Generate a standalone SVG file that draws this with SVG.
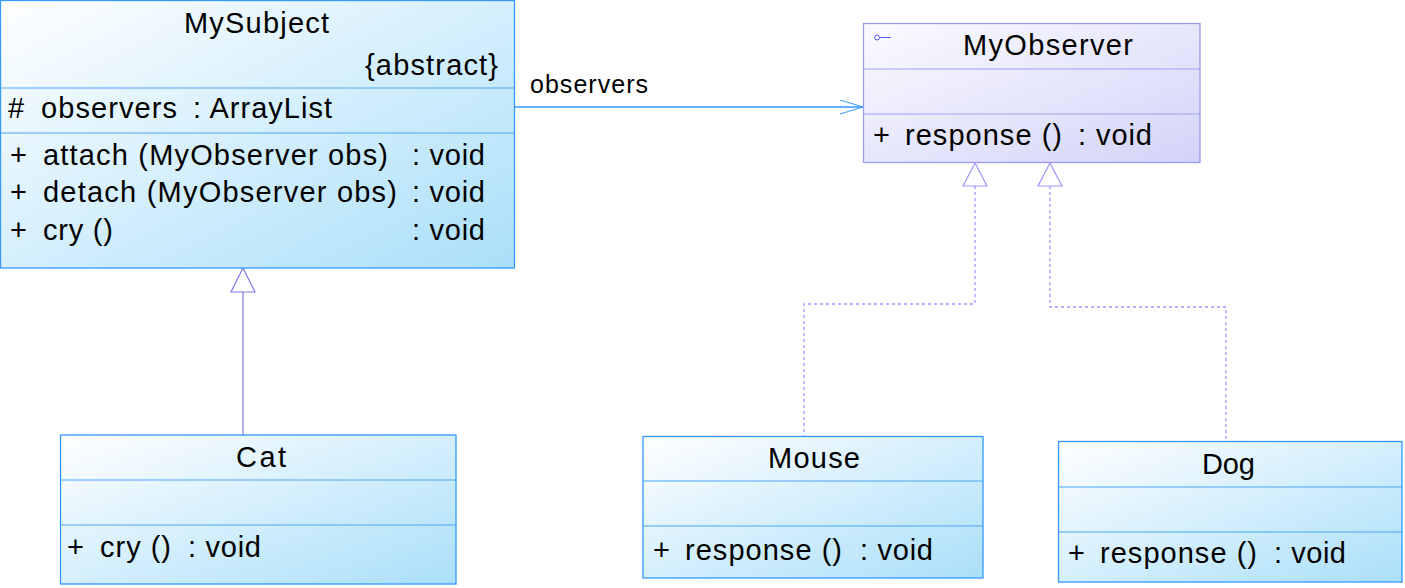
<svg xmlns="http://www.w3.org/2000/svg" width="1405" height="588" viewBox="0 0 1405 588">
<defs>
<linearGradient id="gBlue" x1="0" y1="0" x2="1" y2="1">
<stop offset="0" stop-color="#ffffff"/>
<stop offset="1" stop-color="#aadff9"/>
</linearGradient>
<linearGradient id="gLav" x1="0" y1="0" x2="1" y2="1">
<stop offset="0" stop-color="#fbfbff"/>
<stop offset="1" stop-color="#d3d3f8"/>
</linearGradient>
<marker id="openArrow" markerWidth="26" markerHeight="16" refX="23" refY="7" orient="auto" markerUnits="userSpaceOnUse">
<path d="M0,0 L23,7 L0,14" fill="none" stroke="#3399ff" stroke-width="1"/>
</marker>
</defs>
<style>
.txt{font-family:"Liberation Sans",Arial,sans-serif;font-size:29px;fill:#000}
.lbl{font-family:"Liberation Sans",Arial,sans-serif;font-size:25px;fill:#000}
.cls{fill:url(#gBlue);stroke:#3399ff;stroke-width:1.3}
.div{stroke:#4aa6f2;stroke-width:1}
.ifc{fill:url(#gLav);stroke:#9a9af5;stroke-width:1.3}
.idiv{stroke:#a0a0f5;stroke-width:1}
.real{fill:none;stroke:#9999ff;stroke-width:1.3;stroke-dasharray:3,3}
.tri{fill:#ffffff;stroke:#9999ff;stroke-width:1.2}
.gen{fill:none;stroke:#7b7bee;stroke-width:1.2}
.gtri{fill:#ffffff;stroke:#7b7bee;stroke-width:1.2}
</style>
<rect width="1405" height="588" fill="#ffffff"/>

<g id="connectors">
<line x1="515" y1="107" x2="863" y2="107" stroke="#3399ff" stroke-width="1.3" marker-end="url(#openArrow)"/>
<text class="lbl" x="530" y="93" textLength="118" lengthAdjust="spacing">observers</text>
<line class="gen" x1="243" y1="292" x2="243" y2="435"/>
<polygon class="gtri" points="243,268 231,292 255,292"/>
<polyline class="real" points="975,186 975,304 804,304 804,436"/>
<polygon class="tri" points="975,163 963,186 987,186"/>
<polyline class="real" points="1050,186 1050,307 1226,307 1226,441"/>
<polygon class="tri" points="1050,163 1038,186 1062,186"/>
</g>

<g id="MySubject">
<rect class="cls" x="0.5" y="0.5" width="514" height="267.5"/>
<line class="div" x1="0.5" y1="88" x2="514.5" y2="88"/>
<line class="div" x1="0.5" y1="133" x2="514.5" y2="133"/>
<text class="txt" x="184" y="32.5" textLength="145" lengthAdjust="spacing">MySubject</text>
<text class="txt" x="365" y="75" textLength="133" lengthAdjust="spacing">{abstract}</text>
<text class="txt" x="8" y="117.5">#</text>
<text class="txt" x="41" y="117.5" textLength="136" lengthAdjust="spacing">observers</text>
<text class="txt" x="193" y="117.5" textLength="139" lengthAdjust="spacing">: ArrayList</text>
<text class="txt" x="10" y="165">+</text>
<text class="txt" x="43" y="165" textLength="345" lengthAdjust="spacing">attach (MyObserver obs)</text>
<text class="txt" x="412" y="165" textLength="73" lengthAdjust="spacing">: void</text>
<text class="txt" x="10" y="202">+</text>
<text class="txt" x="43" y="202" textLength="354" lengthAdjust="spacing">detach (MyObserver obs)</text>
<text class="txt" x="412" y="202" textLength="73" lengthAdjust="spacing">: void</text>
<text class="txt" x="10" y="240">+</text>
<text class="txt" x="43" y="240" textLength="70" lengthAdjust="spacing">cry ()</text>
<text class="txt" x="412" y="240" textLength="73" lengthAdjust="spacing">: void</text>
</g>

<g id="MyObserver">
<rect class="ifc" x="863.5" y="23.5" width="336.5" height="139"/>
<line class="idiv" x1="863.5" y1="69" x2="1200" y2="69"/>
<line class="idiv" x1="863.5" y1="114" x2="1200" y2="114"/>
<circle cx="877" cy="37.5" r="2.5" fill="none" stroke="#5a5af0" stroke-width="1"/>
<line x1="879.5" y1="37.5" x2="891" y2="37.5" stroke="#5a5af0" stroke-width="1"/>
<text class="txt" x="963" y="55" textLength="170" lengthAdjust="spacing">MyObserver</text>
<text class="txt" x="873" y="145">+</text>
<text class="txt" x="905" y="145" textLength="157" lengthAdjust="spacing">response ()</text>
<text class="txt" x="1078" y="145" textLength="74" lengthAdjust="spacing">: void</text>
</g>

<g id="Cat">
<rect class="cls" x="60.5" y="435" width="395.5" height="149"/>
<line class="div" x1="60.5" y1="480" x2="456" y2="480"/>
<line class="div" x1="60.5" y1="525" x2="456" y2="525"/>
<text class="txt" x="236" y="467" textLength="50" lengthAdjust="spacing">Cat</text>
<text class="txt" x="67" y="557">+</text>
<text class="txt" x="100" y="557" textLength="71" lengthAdjust="spacing">cry ()</text>
<text class="txt" x="188" y="557" textLength="73" lengthAdjust="spacing">: void</text>
</g>

<g id="Mouse">
<rect class="cls" x="643" y="436.5" width="340" height="141.5"/>
<line class="div" x1="643" y1="481" x2="983" y2="481"/>
<line class="div" x1="643" y1="526" x2="983" y2="526"/>
<text class="txt" x="768" y="468" textLength="92" lengthAdjust="spacing">Mouse</text>
<text class="txt" x="653" y="560">+</text>
<text class="txt" x="685" y="560" textLength="157" lengthAdjust="spacing">response ()</text>
<text class="txt" x="860" y="560" textLength="73" lengthAdjust="spacing">: void</text>
</g>

<g id="Dog">
<rect class="cls" x="1058.5" y="441.5" width="343.5" height="140.5"/>
<line class="div" x1="1058.5" y1="487" x2="1402" y2="487"/>
<line class="div" x1="1058.5" y1="532" x2="1402" y2="532"/>
<text class="txt" x="1202" y="474" textLength="53" lengthAdjust="spacing">Dog</text>
<text class="txt" x="1068" y="563">+</text>
<text class="txt" x="1100" y="563" textLength="157" lengthAdjust="spacing">response ()</text>
<text class="txt" x="1274" y="563" textLength="72" lengthAdjust="spacing">: void</text>
</g>
</svg>
